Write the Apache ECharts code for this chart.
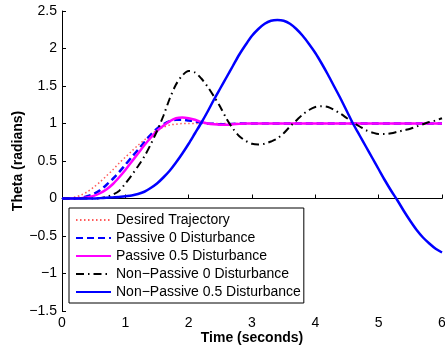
<!DOCTYPE html>
<html>
<head>
<meta charset="utf-8">
<script src="https://cdn.jsdelivr.net/npm/echarts@6/dist/echarts.min.js"></script>
<style>
  html, body { margin: 0; padding: 0; background: #fff; }
  #chart { width: 445px; height: 354px; }
</style>
</head>
<body>
<div id="chart"></div>
<script>
// sample times, 0 .. 6 s every 0.1 s
const time = Array.from({ length: 61 }, (_, i) => +(i * 0.1).toFixed(1))

const desired = [
  0, 0.005, 0.02, 0.045, 0.09, 0.15, 0.22, 0.30, 0.38, 0.47,
  0.55, 0.63, 0.71, 0.78, 0.85, 0.91, 0.95, 0.98, 0.99, 1.0,
  1, 1, 1, 1, 1, 1, 1, 1, 1, 1,
  1, 1, 1, 1, 1, 1, 1, 1, 1, 1,
  1, 1, 1, 1, 1, 1, 1, 1, 1, 1,
  1, 1, 1, 1, 1, 1, 1, 1, 1, 1,
  1,
]
const passive0 = [
  0, 0, 0, 0.01, 0.03, 0.06, 0.11, 0.18, 0.26, 0.35,
  0.45, 0.55, 0.65, 0.75, 0.85, 0.93, 0.99, 1.03, 1.05, 1.05,
  1.04, 1.03, 1.01, 1.0, 0.995, 0.99, 0.99, 0.995, 1, 1,
  1, 1, 1, 1, 1, 1, 1, 1, 1, 1,
  1, 1, 1, 1, 1, 1, 1, 1, 1, 1,
  1, 1, 1, 1, 1, 1, 1, 1, 1, 1,
  1,
]
const passive05 = [
  0, 0, 0, 0.005, 0.015, 0.035, 0.07, 0.12, 0.19, 0.28,
  0.38, 0.49, 0.60, 0.71, 0.81, 0.90, 0.97, 1.03, 1.07, 1.08,
  1.07, 1.05, 1.02, 1.0, 0.99, 0.985, 0.985, 0.99, 0.995, 1.0,
  1, 1, 1, 1, 1, 1, 1, 1, 1, 1,
  1, 1, 1, 1, 1, 1, 1, 1, 1, 1,
  1, 1, 1, 1, 1, 1, 1, 1, 1, 1,
  1,
]
const nonPassive0 = [
  0, 0, 0, 0, 0, 0, 0.005, 0.02, 0.05, 0.10,
  0.20, 0.31, 0.43, 0.56, 0.72, 0.90, 1.10, 1.33, 1.52, 1.64,
  1.70, 1.68, 1.60, 1.49, 1.36, 1.22, 1.06, 0.93, 0.83, 0.77,
  0.73, 0.72, 0.73, 0.76, 0.80, 0.87, 0.96, 1.04, 1.12, 1.18,
  1.22, 1.23, 1.22, 1.18, 1.13, 1.07, 1.01, 0.96, 0.91, 0.88,
  0.86, 0.86, 0.87, 0.89, 0.91, 0.93, 0.96, 0.99, 1.02, 1.04,
  1.07,
]
const nonPassive05 = [
  0, 0, 0, 0, 0, 0, 0.005, 0.01, 0.015, 0.02,
  0.03, 0.04, 0.06, 0.09, 0.14, 0.20, 0.28, 0.37, 0.48, 0.60,
  0.73, 0.87, 1.01, 1.16, 1.32, 1.47, 1.62, 1.77, 1.92, 2.05,
  2.17, 2.26, 2.33, 2.37, 2.38, 2.37, 2.33, 2.26, 2.17, 2.06,
  1.94, 1.80, 1.65, 1.49, 1.33, 1.16, 0.99, 0.84, 0.69, 0.54,
  0.39, 0.24, 0.10, -0.03, -0.17, -0.30, -0.42, -0.52, -0.60, -0.67,
  -0.72,
]

const seriesNames = [
  "Desired Trajectory",
  "Passive 0 Disturbance",
  "Passive 0.5 Disturbance",
  "Non\u2212Passive 0 Disturbance",
  "Non\u2212Passive 0.5 Disturbance",
]

const font = "'Liberation Sans', Arial, Helvetica, sans-serif"
const pairs = (vals) => vals.map((v, i) => [time[i], v])
const minus = (v) => String(v).replace("-", "\u2212")

const chart = echarts.init(document.getElementById("chart"))

const line = (name, vals, color, width, type) => ({
  name,
  type: "line",
  data: pairs(vals),
  symbol: "none",
  smooth: 0.3,
  lineStyle: { color, width, type, cap: "butt" },
  itemStyle: { color },
})

const option = {
  animation: false,
  backgroundColor: "#fff",
  textStyle: { fontFamily: font },
  grid: { left: 62, right: 3, top: 11, bottom: 43, outerBoundsMode: "none" },
  legend: {
    orient: "vertical",
    left: 69,
    top: 208,
    padding: [5, 3, 4, 6],
    itemWidth: 35,
    itemHeight: 14,
    itemGap: 4,
    itemStyle: { opacity: 0 },
    borderColor: "#000",
    borderWidth: 1,
    borderRadius: 0,
    backgroundColor: "#fff",
    textStyle: { fontFamily: font, fontSize: 14, color: "#000", lineHeight: 14 },
    data: seriesNames,
  },
  xAxis: {
    type: "value",
    min: 0,
    max: 6,
    interval: 1,
    name: "Time (seconds)",
    nameLocation: "middle",
    nameGap: 20,
    nameMoveOverlap: false,
    nameTextStyle: { fontFamily: font, fontSize: 14, fontWeight: "bold", color: "#000" },
    axisLine: { lineStyle: { color: "#000", width: 1 } },
    axisTick: { inside: true, length: 4, lineStyle: { color: "#000" } },
    axisLabel: { fontFamily: font, fontSize: 14, color: "#000", margin: 5 },
    splitLine: { show: false },
  },
  yAxis: {
    type: "value",
    min: -1.5,
    max: 2.5,
    interval: 0.5,
    name: "Theta (radians)",
    nameLocation: "middle",
    nameGap: 37,
    nameMoveOverlap: false,
    nameTextStyle: { fontFamily: font, fontSize: 14, fontWeight: "bold", color: "#000" },
    axisLine: { show: true, lineStyle: { color: "#000", width: 1 } },
    axisTick: { show: true, inside: true, length: 4, lineStyle: { color: "#000" } },
    axisLabel: { fontFamily: font, fontSize: 14, color: "#000", margin: 5, formatter: minus },
    splitLine: { show: false },
  },
  series: [
    line(seriesNames[0], desired, "#ff5a5a", 1.5, [1.5, 2.5]),
    line(seriesNames[1], passive0, "#0000ff", 2.5, [7, 4]),
    line(seriesNames[2], passive05, "#ff00ff", 2.5, "solid"),
    line(seriesNames[3], nonPassive0, "#000000", 2, [8, 4, 1.5, 4]),
    line(seriesNames[4], nonPassive05, "#0000ff", 2.5, "solid"),
  ],
}

chart.setOption(option)
</script>
</body>
</html>
